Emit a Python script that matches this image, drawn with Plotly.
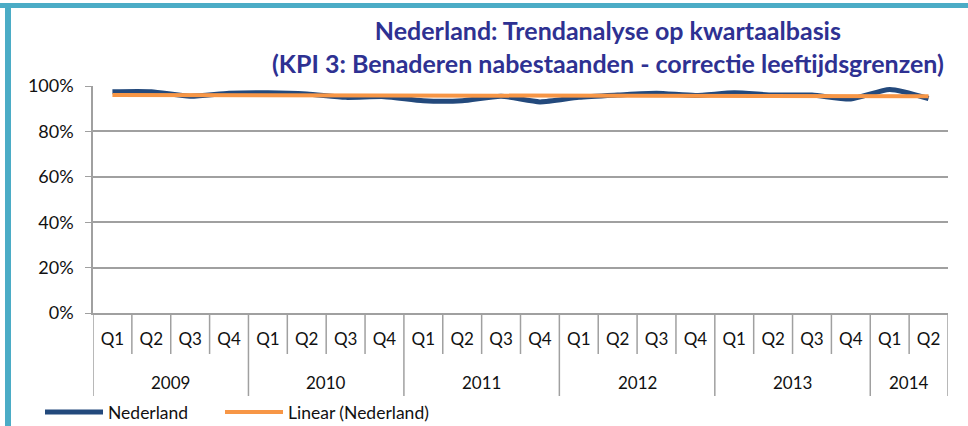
import numpy as np
import plotly.graph_objects as go

years = ["2009"] * 4 + ["2010"] * 4 + ["2011"] * 4 + ["2012"] * 4 + ["2013"] * 4 + ["2014"] * 2
quarters = ["Q1", "Q2", "Q3", "Q4"] * 5 + ["Q1", "Q2"]
nederland = [0.975, 0.975, 0.955, 0.968, 0.970, 0.965, 0.950, 0.953,
             0.935, 0.935, 0.955, 0.930, 0.950, 0.960, 0.968, 0.958,
             0.970, 0.960, 0.960, 0.943, 0.985, 0.945]

idx = np.arange(len(nederland))
slope, intercept = np.polyfit(idx, nederland, 1)
trend = slope * idx + intercept

W, H = 968, 426
L, R, T, B = 93, 20, 86, 113
pw, ph = W - L - R, H - T - B

def px(x):
    return (x - L) / pw

def py(y):
    return (H - B - y) / ph

FONT = "Lato"
GRID = "#A0A0A0"

fig = go.Figure()
fig.add_trace(go.Scatter(x=idx, y=nederland, mode="lines", name="Nederland", legend="legend",
                         line=dict(color="#23497C", width=5, shape="spline", smoothing=0.6)))
fig.add_trace(go.Scatter(x=idx, y=trend, mode="lines", name="Linear (Nederland)", legend="legend2",
                         line=dict(color="#F79646", width=4)))

legend_common = dict(orientation="h", y=py(412), xanchor="left", yanchor="middle",
                     font=dict(size=17.5), tracegroupgap=0, itemwidth=58,
                     bgcolor="rgba(0,0,0,0)")

fig.update_layout(
    width=W, height=H,
    margin=dict(l=L, r=R, t=T, b=B, autoexpand=False),
    paper_bgcolor="white", plot_bgcolor="white",
    font=dict(family=FONT, size=17, color="#111111"),
    title=dict(text="<b>Nederland: Trendanalyse op kwartaalbasis<br>(KPI 3: Benaderen nabestaanden - correctie leeftijdsgrenzen)</b>",
               x=0.628, xanchor="center", y=(H - 40) / H, yanchor="middle",
               font=dict(family=FONT, size=25, color="#2E3192")),
    xaxis=dict(range=[-0.5, len(idx) - 0.5], showline=True, linecolor=GRID, linewidth=1.5,
               tickvals=idx, ticktext=quarters, ticks="", showgrid=False, zeroline=False,
               tickfont=dict(size=17), automargin=False, ticklabelstandoff=10),
    yaxis=dict(range=[0, 1], tickvals=[0, 0.2, 0.4, 0.6, 0.8, 1.0], tickformat=".0%",
               showgrid=True, gridcolor=GRID, gridwidth=1.5, showline=True,
               linecolor=GRID, linewidth=1.5, ticks="outside", ticklen=6,
               tickcolor=GRID, zeroline=False, tickfont=dict(size=18), automargin=False,
               ticklabelstandoff=8),
    legend=dict(x=px(40), **legend_common),
    legend2=dict(x=px(220), **legend_common),
    showlegend=True,
)

# quarter separators and year separators / labels
bounds_q = [i - 0.5 for i in range(len(idx) + 1)]
year_starts = [0] + [i for i in range(1, len(years)) if years[i] != years[i - 1]] + [len(years)]
for b in bounds_q:
    is_year = int(b + 0.5) in year_starts
    fig.add_shape(type="line", xref="x", yref="paper", x0=b, x1=b, y0=0,
                  y1=py(396) if is_year else py(354), line=dict(color=GRID, width=1.5))
for s, e in zip(year_starts[:-1], year_starts[1:]):
    fig.add_annotation(x=(s + e - 1) / 2, xref="x", y=py(382), yref="paper", text=years[s],
                       showarrow=False, font=dict(size=17), yanchor="middle")

fig.add_shape(type="line", xref="paper", yref="paper", x0=px(0), x1=px(W), y0=py(5.5), y1=py(5.5),
              line=dict(color="#4BACC6", width=5))
fig.add_shape(type="line", xref="paper", yref="paper", x0=px(8), x1=px(8), y0=py(3), y1=py(H),
              line=dict(color="#4BACC6", width=6))

fig.write_html("out.html", config={"displayModeBar": False},
               post_script="document.body.style.margin='0';")
